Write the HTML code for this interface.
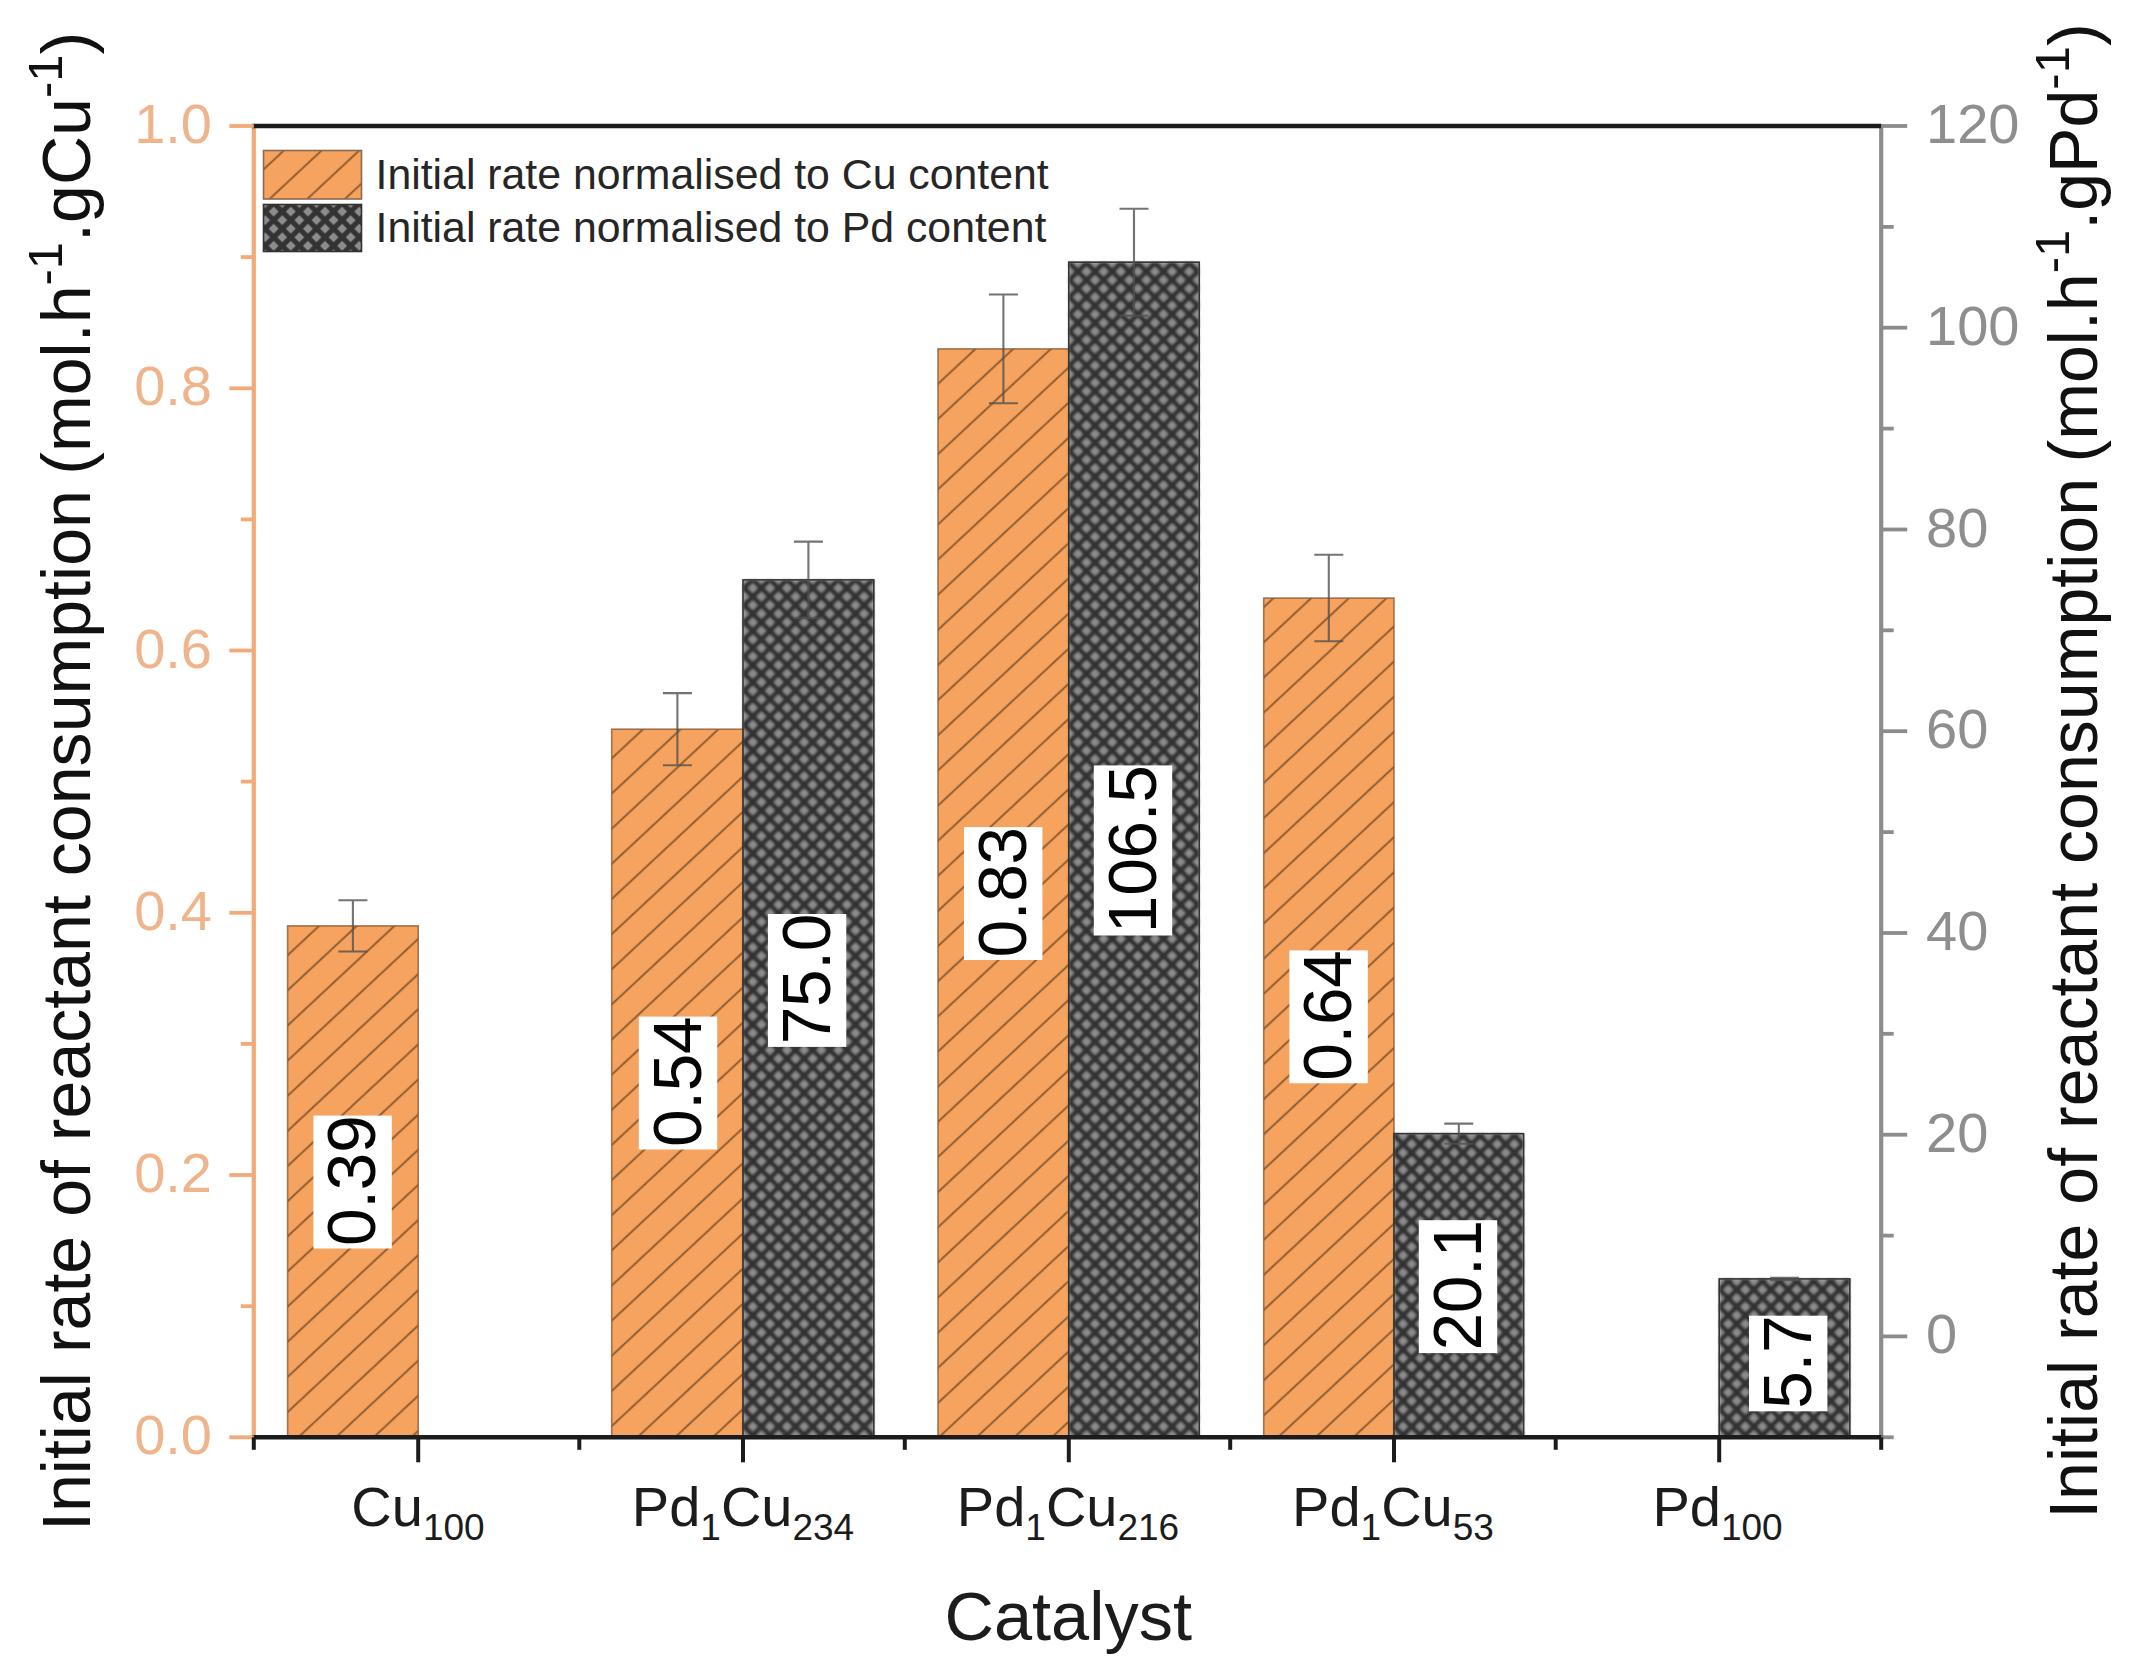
<!DOCTYPE html>
<html lang="en"><head><meta charset="utf-8"><title>Initial rate of reactant consumption by catalyst</title>
<style>
html,body{margin:0;padding:0;background:#fff;}
body{width:2131px;height:1673px;overflow:hidden;}
svg{display:block;}
text{font-family:"Liberation Sans", Arial, Helvetica, sans-serif;}
</style></head><body>
<svg width="2131" height="1673" viewBox="0 0 2131 1673">
<defs>
<pattern id="hO" patternUnits="userSpaceOnUse" width="25.7" height="25.7" patternTransform="translate(287.5 1184.2) rotate(-43)">
<rect width="25.7" height="25.7" fill="#f5a35e"/>
<line x1="0" y1="12.5" x2="25.7" y2="12.5" stroke="#4a2c12" stroke-width="1.7" stroke-opacity="0.68"/>
</pattern>
<pattern id="hG" patternUnits="userSpaceOnUse" width="12.1" height="12.1" patternTransform="translate(1086.5 262.94) rotate(45)">
<rect width="12.1" height="12.1" fill="#333"/>
<rect x="2.55" y="2.55" width="7.0" height="7.0" fill="#8c8c8c"/>
</pattern>
<filter id="soft" x="-5%" y="-5%" width="110%" height="110%"><feGaussianBlur stdDeviation="0.9"/></filter>
</defs>
<rect width="2131" height="1673" fill="#fff"/>

<g id="bars">
<rect x="287.6" y="925.9" width="130.6" height="511.4" fill="url(#hO)" stroke="#8a5a34" stroke-opacity="0.8" stroke-width="1.6"/>
<rect x="611.7" y="729.2" width="131.3" height="708.1" fill="url(#hO)" stroke="#8a5a34" stroke-opacity="0.8" stroke-width="1.6"/>
<rect x="938.0" y="348.9" width="130.8" height="1088.4" fill="url(#hO)" stroke="#8a5a34" stroke-opacity="0.8" stroke-width="1.6"/>
<rect x="1263.7" y="598.1" width="130.3" height="839.2" fill="url(#hO)" stroke="#8a5a34" stroke-opacity="0.8" stroke-width="1.6"/>
<rect x="743.0" y="579.9" width="130.8" height="857.4" fill="url(#hG)" filter="url(#soft)"/>
<rect x="743.0" y="579.9" width="130.8" height="857.4" fill="none" stroke="#333" stroke-width="1.6"/>
<rect x="1068.8" y="262.2" width="130.4" height="1175.1" fill="url(#hG)" filter="url(#soft)"/>
<rect x="1068.8" y="262.2" width="130.4" height="1175.1" fill="none" stroke="#333" stroke-width="1.6"/>
<rect x="1394.0" y="1133.7" width="129.6" height="303.6" fill="url(#hG)" filter="url(#soft)"/>
<rect x="1394.0" y="1133.7" width="129.6" height="303.6" fill="none" stroke="#333" stroke-width="1.6"/>
<rect x="1719.2" y="1278.9" width="130.6" height="158.4" fill="url(#hG)" filter="url(#soft)"/>
<rect x="1719.2" y="1278.9" width="130.6" height="158.4" fill="none" stroke="#333" stroke-width="1.6"/>
</g>
<g id="err" stroke="#505050" stroke-opacity="0.8" stroke-width="2.1" fill="none">
<path d="M338.4 900.3H367.4M352.9 900.3V951.5M338.4 951.5H367.4"/>
<path d="M662.9 693.1H691.9M677.4 693.1V765.3M662.9 765.3H691.9"/>
<path d="M988.9 294.5H1017.9M1003.4 294.5V403.3M988.9 403.3H1017.9"/>
<path d="M1314.3 554.8H1343.3M1328.8 554.8V641.3M1314.3 641.3H1343.3"/>
<path d="M793.9 541.6H822.9M808.4 541.6V618.2M793.9 618.2H822.9"/>
<path d="M1119.5 208.7H1148.5M1134.0 208.7V315.6M1119.5 315.6H1148.5"/>
<path d="M1444.3 1123.6H1473.3M1458.8 1123.6V1143.8M1444.3 1143.8H1473.3"/>
<path d="M1770.0 1277.7H1799.0M1784.5 1277.7V1280.1M1770.0 1280.1H1799.0"/>
</g>
<g id="vals" font-size="67.6" fill="#050505" text-anchor="middle" letter-spacing="-0.3">
<rect x="313.4" y="1115.6" width="78.4" height="132.9" fill="#fff"/>
<text transform="translate(375.2 1180.8) rotate(-90)">0.39</text>
<rect x="638.8" y="1016.6" width="78.4" height="132.9" fill="#fff"/>
<text transform="translate(700.6 1081.8) rotate(-90)">0.54</text>
<rect x="964.0" y="827.1" width="78.4" height="132.9" fill="#fff"/>
<text transform="translate(1025.8 892.3) rotate(-90)">0.83</text>
<rect x="1289.4" y="950.4" width="78.4" height="132.9" fill="#fff"/>
<text transform="translate(1351.2 1015.6) rotate(-90)">0.64</text>
<rect x="767.9" y="914.0" width="78.4" height="132.9" fill="#fff"/>
<text transform="translate(829.7 979.2) rotate(-90)">75.0</text>
<rect x="1093.8" y="765.4" width="78.4" height="170.1" fill="#fff"/>
<text transform="translate(1155.6 849.3) rotate(-90)">106.5</text>
<rect x="1418.8" y="1220.2" width="78.4" height="132.9" fill="#fff"/>
<text transform="translate(1480.6 1285.4) rotate(-90)">20.1</text>
<rect x="1749.0" y="1315.7" width="78.4" height="95.6" fill="#fff"/>
<text transform="translate(1810.8 1362.3) rotate(-90)">5.7</text>
</g>
<g id="axes">
<line x1="253.8" y1="126.0" x2="253.8" y2="1437.3" stroke="#f2aa78" stroke-width="4.2"/>
<line x1="1881.2" y1="124.0" x2="1881.2" y2="1439.3" stroke="#8c8c8c" stroke-width="4.2"/>
<line x1="251.8" y1="126.0" x2="1881.2" y2="126.0" stroke="#1c1c1c" stroke-width="4.6"/>
<line x1="251.8" y1="1437.3" x2="1883.2" y2="1437.3" stroke="#1c1c1c" stroke-width="4.6"/>
<line x1="229.3" y1="1437.3" x2="253.8" y2="1437.3" stroke="#f2aa78" stroke-width="3.8"/>
<line x1="229.3" y1="1175.0" x2="253.8" y2="1175.0" stroke="#f2aa78" stroke-width="3.8"/>
<line x1="229.3" y1="912.8" x2="253.8" y2="912.8" stroke="#f2aa78" stroke-width="3.8"/>
<line x1="229.3" y1="650.5" x2="253.8" y2="650.5" stroke="#f2aa78" stroke-width="3.8"/>
<line x1="229.3" y1="388.3" x2="253.8" y2="388.3" stroke="#f2aa78" stroke-width="3.8"/>
<line x1="229.3" y1="126.0" x2="253.8" y2="126.0" stroke="#f2aa78" stroke-width="3.8"/>
<line x1="240.8" y1="1306.2" x2="253.8" y2="1306.2" stroke="#f2aa78" stroke-width="3.8"/>
<line x1="240.8" y1="1043.9" x2="253.8" y2="1043.9" stroke="#f2aa78" stroke-width="3.8"/>
<line x1="240.8" y1="781.6" x2="253.8" y2="781.6" stroke="#f2aa78" stroke-width="3.8"/>
<line x1="240.8" y1="519.4" x2="253.8" y2="519.4" stroke="#f2aa78" stroke-width="3.8"/>
<line x1="240.8" y1="257.1" x2="253.8" y2="257.1" stroke="#f2aa78" stroke-width="3.8"/>
<line x1="1881.2" y1="1336.4" x2="1907.2" y2="1336.4" stroke="#8c8c8c" stroke-width="3.8"/>
<line x1="1881.2" y1="1134.7" x2="1907.2" y2="1134.7" stroke="#8c8c8c" stroke-width="3.8"/>
<line x1="1881.2" y1="933.0" x2="1907.2" y2="933.0" stroke="#8c8c8c" stroke-width="3.8"/>
<line x1="1881.2" y1="731.2" x2="1907.2" y2="731.2" stroke="#8c8c8c" stroke-width="3.8"/>
<line x1="1881.2" y1="529.5" x2="1907.2" y2="529.5" stroke="#8c8c8c" stroke-width="3.8"/>
<line x1="1881.2" y1="327.7" x2="1907.2" y2="327.7" stroke="#8c8c8c" stroke-width="3.8"/>
<line x1="1881.2" y1="126.0" x2="1907.2" y2="126.0" stroke="#8c8c8c" stroke-width="3.8"/>
<line x1="1881.2" y1="1437.3" x2="1893.7" y2="1437.3" stroke="#8c8c8c" stroke-width="3.8"/>
<line x1="1881.2" y1="1235.6" x2="1893.7" y2="1235.6" stroke="#8c8c8c" stroke-width="3.8"/>
<line x1="1881.2" y1="1033.8" x2="1893.7" y2="1033.8" stroke="#8c8c8c" stroke-width="3.8"/>
<line x1="1881.2" y1="832.1" x2="1893.7" y2="832.1" stroke="#8c8c8c" stroke-width="3.8"/>
<line x1="1881.2" y1="630.3" x2="1893.7" y2="630.3" stroke="#8c8c8c" stroke-width="3.8"/>
<line x1="1881.2" y1="428.6" x2="1893.7" y2="428.6" stroke="#8c8c8c" stroke-width="3.8"/>
<line x1="1881.2" y1="226.9" x2="1893.7" y2="226.9" stroke="#8c8c8c" stroke-width="3.8"/>
<line x1="418.2" y1="1437.3" x2="418.2" y2="1462.3" stroke="#1c1c1c" stroke-width="4"/>
<line x1="743" y1="1437.3" x2="743" y2="1462.3" stroke="#1c1c1c" stroke-width="4"/>
<line x1="1068.8" y1="1437.3" x2="1068.8" y2="1462.3" stroke="#1c1c1c" stroke-width="4"/>
<line x1="1394" y1="1437.3" x2="1394" y2="1462.3" stroke="#1c1c1c" stroke-width="4"/>
<line x1="1719.2" y1="1437.3" x2="1719.2" y2="1462.3" stroke="#1c1c1c" stroke-width="4"/>
<line x1="253.8" y1="1437.3" x2="253.8" y2="1449.8" stroke="#1c1c1c" stroke-width="4"/>
<line x1="579.3" y1="1437.3" x2="579.3" y2="1449.8" stroke="#1c1c1c" stroke-width="4"/>
<line x1="904.8" y1="1437.3" x2="904.8" y2="1449.8" stroke="#1c1c1c" stroke-width="4"/>
<line x1="1230.2" y1="1437.3" x2="1230.2" y2="1449.8" stroke="#1c1c1c" stroke-width="4"/>
<line x1="1555.7" y1="1437.3" x2="1555.7" y2="1449.8" stroke="#1c1c1c" stroke-width="4"/>
<line x1="1881.2" y1="1437.3" x2="1881.2" y2="1449.8" stroke="#1c1c1c" stroke-width="4"/>
</g>
<g id="ltl" font-size="56" fill="#f0b48c" text-anchor="end">
<text x="212" y="1454.3">0.0</text>
<text x="212" y="1192.0">0.2</text>
<text x="212" y="929.8">0.4</text>
<text x="212" y="667.5">0.6</text>
<text x="212" y="405.3">0.8</text>
<text x="212" y="143.0">1.0</text>
</g>
<g id="rtl" font-size="56" fill="#8e8e8e" text-anchor="start">
<text x="1926" y="1353.4">0</text>
<text x="1926" y="1151.7">20</text>
<text x="1926" y="950.0">40</text>
<text x="1926" y="748.2">60</text>
<text x="1926" y="546.5">80</text>
<text x="1926" y="344.7">100</text>
<text x="1926" y="143.0">120</text>
</g>
<g id="xtl" font-size="56" fill="#1c1c1c" text-anchor="middle">
<text x="418" y="1525.5">Cu<tspan font-size="37" dy="14.5">100</tspan></text>
<text x="743" y="1525.5">Pd<tspan font-size="37" dy="14.5">1</tspan><tspan dy="-14.5">Cu</tspan><tspan font-size="37" dy="14.5">234</tspan></text>
<text x="1068" y="1525.5">Pd<tspan font-size="37" dy="14.5">1</tspan><tspan dy="-14.5">Cu</tspan><tspan font-size="37" dy="14.5">216</tspan></text>
<text x="1393" y="1525.5">Pd<tspan font-size="37" dy="14.5">1</tspan><tspan dy="-14.5">Cu</tspan><tspan font-size="37" dy="14.5">53</tspan></text>
<text x="1717.5" y="1525.5">Pd<tspan font-size="37" dy="14.5">100</tspan></text>
</g>
<text x="1068.2" y="1640.3" font-size="68.5" fill="#1c1c1c" text-anchor="middle">Catalyst</text>
<text transform="translate(90 1531) rotate(-90)" font-size="68.1" fill="#111" text-anchor="start">Initial rate of reactant consumption <tspan dx="-3.5">(</tspan>mol.h<tspan font-size="49" dy="-28">-1</tspan><tspan dy="28">.gCu</tspan><tspan font-size="49" dy="-28">-1</tspan><tspan dy="28">)</tspan></text>
<text transform="translate(2097 1518.8) rotate(-90)" font-size="68.1" fill="#111" text-anchor="start">Initial rate of reactant consumption <tspan dx="-3.5">(</tspan>mol.h<tspan font-size="49" dy="-28">-1</tspan><tspan dy="28">.gPd</tspan><tspan font-size="49" dy="-28">-1</tspan><tspan dy="28">)</tspan></text>
<rect x="263.5" y="150.5" width="98" height="48.5" fill="url(#hO)" stroke="#8a6a50" stroke-width="1.6"/>
<rect x="263.5" y="204.5" width="98" height="47" fill="url(#hG)" stroke="#333" stroke-width="1.6"/>
<text x="375.5" y="189" font-size="42.8" fill="#262626">Initial rate normalised to Cu content</text>
<text x="375.5" y="241.7" font-size="42.8" fill="#262626">Initial rate normalised to Pd content</text>
</svg></body></html>
